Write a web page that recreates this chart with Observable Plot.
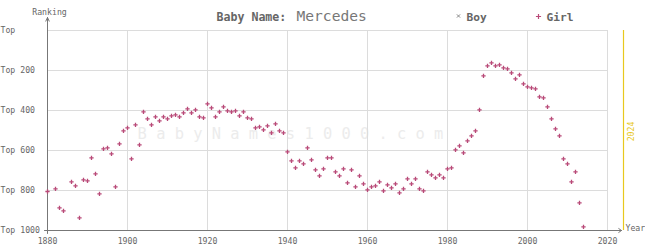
<!DOCTYPE html>
<html><head><meta charset="utf-8">
<script src="https://cdn.jsdelivr.net/npm/d3@7"></script>
<script src="https://cdn.jsdelivr.net/npm/@observablehq/plot@0.6"></script>
<style>
body{margin:0;background:#fff;}
#wrap{position:relative;width:645px;height:250px;}
#wrap svg{display:block;}
</style></head><body><div id="wrap"></div>
<script>
const babyName = "Mercedes";
const girlYears = [1880,1882,1883,1884,1886,1887,1888,1889,1890,1891,1892,1893,1894,1895,1896,1897,1898,1899,
  1900,1901,1902,1903,1904,1905,1906,1907,1908,1909,1910,1911,1912,1913,1914,1915,1916,1917,1918,1919,
  1920,1921,1922,1923,1924,1925,1926,1927,1928,1929,1930,1931,1932,1933,1934,1935,1936,1937,1938,1939,
  1940,1941,1942,1943,1944,1945,1946,1947,1948,1949,1950,1951,1952,1953,1954,1955,1956,1957,1958,1959,
  1960,1961,1962,1963,1964,1965,1966,1967,1968,1969,1970,1971,1972,1973,1974,1975,1976,1977,1978,1979,
  1980,1981,1982,1983,1984,1985,1986,1987,1988,1989,1990,1991,1992,1993,1994,1995,1996,1997,1998,1999,
  2000,2001,2002,2003,2004,2005,2006,2007,2008,2009,2010,2011,2012,2013,2014];
const girlRanks = [805,792,887,902,757,777,937,747,752,637,717,817,592,587,617,782,567,502,
  487,642,472,572,407,442,472,432,452,432,442,427,422,432,412,392,412,397,432,437,
  367,387,432,407,382,402,407,402,427,407,437,442,487,482,497,477,512,467,502,512,
  607,652,687,652,667,587,647,697,727,692,637,637,707,727,692,762,697,782,727,767,
  797,782,777,757,802,772,787,767,812,792,742,767,742,792,802,707,722,737,722,737,
  692,687,597,577,612,552,527,502,397,227,177,162,177,172,187,192,212,242,222,267,
  282,287,292,332,337,382,442,492,527,642,667,757,707,862,982];
const boyYears = [];
const boyRanks = [];
const xTicks = [1880,1900,1920,1940,1960,1980,2000,2020];
const yTicks = [0,200,400,600,800,1000];
const yTickLabels = ["Top","Top 200","Top 400","Top 600","Top 800","Top 1000"];
const currentYear = 2024;
const watermark = "BabyNames1000.com";

const girls = girlYears.map((year,i)=>({year, rank:girlRanks[i]}));
const boys = boyYears.map((year,i)=>({year, rank:boyRanks[i]}));
const xDomain = [xTicks[0], xTicks[xTicks.length-1]];
const yDomain = [yTicks[0], yTicks[yTicks.length-1]];
const MONO = "DejaVu Sans Mono, monospace";
const GIRL = "#b94a78", BOY = "#888", AXIS = "#777", GRID = "#dcdcdc", TXT = "#666", YEL = "#e8c81e";

const chart = Plot.plot({
  width:645, height:250,
  marginLeft:47, marginRight:38, marginTop:30, marginBottom:20,
  style:{fontFamily:MONO, fontSize:"8.2px", color:TXT, background:"transparent", overflow:"visible"},
  x:{domain:xDomain},
  y:{domain:yDomain, reverse:true},
  marks:[
    Plot.text([watermark], {frameAnchor:"middle", dx:-37, dy:3.5, text:d=>d.split("").join(" "),
      fontSize:15.4, fill:"#ececec", fontFamily:MONO}),
    Plot.ruleY(yTicks.slice(0,-1), {stroke:GRID}),
    Plot.ruleX(xTicks.slice(1), {stroke:GRID}),
    Plot.ruleX([currentYear], {stroke:YEL, strokeWidth:1.2}),
    Plot.text([currentYear], {x:d=>d, frameAnchor:"middle", rotate:-90, dx:8, dy:1, text:d=>String(d),
      fill:YEL, fontSize:8.2}),
    Plot.arrow([{x1:xDomain[0], y1:yDomain[1], x2:xDomain[0], y2:yDomain[0]}],
      {x1:"x1", y1:"y1", x2:"x2", y2:"y2", insetStart:-3, insetEnd:-13, headLength:6, headAngle:50, stroke:AXIS, strokeWidth:1}),
    Plot.arrow([{x1:xDomain[0], y1:yDomain[1], x2:xDomain[1], y2:yDomain[1]}],
      {x1:"x1", y1:"y1", x2:"x2", y2:"y2", insetStart:-3, insetEnd:-14, headLength:5, headAngle:70, stroke:AXIS, strokeWidth:1}),
    Plot.axisY({ticks:yTicks, tickSize:0, tickPadding:0, textAnchor:"start", dx:-47,
      tickFormat:d=>yTickLabels[yTicks.indexOf(d)], label:null, fill:TXT}),
    Plot.axisX({ticks:xTicks, tickSize:0, tickPadding:8, tickFormat:d=>String(d), label:null, fill:TXT}),
    Plot.text(["Year"], {frameAnchor:"bottom-right", dx:18, textAnchor:"start", text:d=>d, fill:TXT, fontSize:8.2}),
    Plot.dot(boys, {x:"year", y:"rank", symbol:"times", r:1.4, stroke:BOY, strokeWidth:1.2}),
    Plot.dot(girls, {x:"year", y:"rank", symbol:"plus", r:1.5, stroke:GIRL, strokeWidth:1.3})
  ]
});
const wrap = document.getElementById("wrap");
wrap.appendChild(chart);

// header (title, legend, axis name) drawn above the plot
const head = d3.select(wrap).append("svg").attr("width",645).attr("height",30)
  .style("position","absolute").style("left","0px").style("top","0px")
  .attr("font-family", MONO);
head.append("text").attr("x",49.5).attr("y",14.5).attr("text-anchor","middle")
  .attr("font-size",8.2).attr("fill",TXT).text("Ranking");
head.append("text").attr("x",216.5).attr("y",20.7).attr("font-size",11.6).attr("font-weight","bold")
  .attr("fill",TXT).text("Baby Name:");
head.append("text").attr("x",296.5).attr("y",20.7).attr("font-size",14.6)
  .attr("fill","#777").text(babyName);
// legend
head.append("path").attr("d", d3.symbol(d3.symbolTimes, 8)()).attr("transform","translate(458.5,16)")
  .attr("stroke",BOY).attr("stroke-width",1).attr("fill","none");
head.append("text").attr("x",466.5).attr("y",20.7).attr("font-size",11.2).attr("font-weight","bold")
  .attr("fill",TXT).text("Boy");
head.append("path").attr("d", d3.symbol(d3.symbolPlus, 10)()).attr("transform","translate(538.5,16.5)")
  .attr("stroke",GIRL).attr("stroke-width",1.2).attr("fill","none");
head.append("text").attr("x",546.5).attr("y",20.7).attr("font-size",11.2).attr("font-weight","bold")
  .attr("fill",TXT).text("Girl");
</script></body></html>
